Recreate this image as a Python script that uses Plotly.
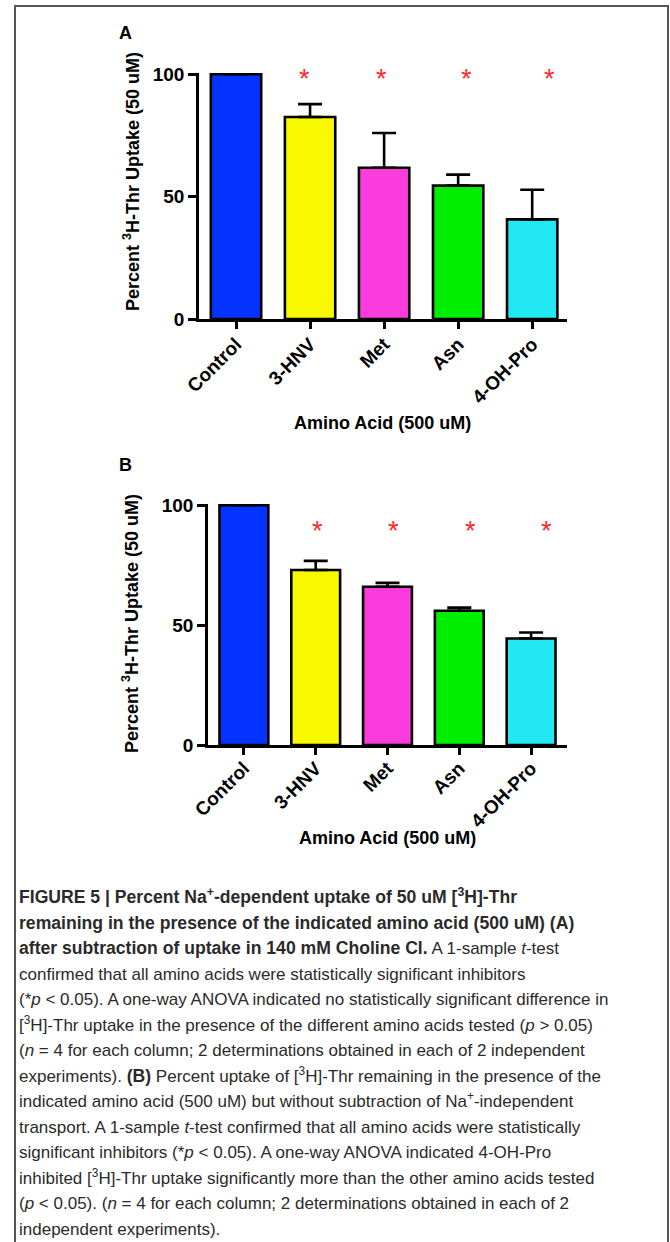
import plotly.graph_objects as go

W, H = 670, 1242

categories = ["Control", "3-HNV", "Met", "Asn", "4-OH-Pro"]
colors = ["#0433FF", "#F8F800", "#FA3CDC", "#00EE00", "#22E8F4"]

# Panel A
values_A = [100, 82.5, 61.8, 54.5, 40.7]
err_A = [0, 5.3, 14.2, 4.5, 12.1]
sig_x_A = [0.92, 1.96, 3.11, 4.23]
sig_y_A = [99, 99, 99, 99]

# Panel B
values_B = [100, 73.0, 66.0, 56.0, 44.4]
err_B = [0, 3.8, 1.6, 1.3, 2.5]
sig_x_B = [1.03, 2.09, 3.16, 4.22]
sig_y_B = [90, 90, 90, 90]

y_ticks = [0, 50, 100]

FONT = "Liberation Sans, Arial, sans-serif"


def px_x(p):
    return p / W


def px_y(p):
    return 1 - p / H


fig = go.Figure()

for vals, errs, xa, ya in [(values_A, err_A, "x", "y"), (values_B, err_B, "x2", "y2")]:
    fig.add_trace(go.Bar(
        x=categories, y=vals, xaxis=xa, yaxis=ya,
        marker=dict(color=colors, line=dict(color="black", width=2.6)),
        width=0.68,
        error_y=dict(type="data", array=errs, arrayminus=[0] * len(errs), symmetric=False,
                     color="black", thickness=2.6, width=12),
        showlegend=False, hoverinfo="skip",
    ))

axis_common = dict(
    showline=True, linecolor="black", linewidth=2.6,
    ticks="outside", tickcolor="black", tickwidth=2.6,
    showgrid=False, zeroline=False, automargin=False,
    tickfont=dict(family=FONT, size=19, color="black", weight="bold"),
)

fig.update_layout(
    width=W, height=H,
    margin=dict(l=0, r=0, t=0, b=0, autoexpand=False),
    plot_bgcolor="white", paper_bgcolor="white",
    showlegend=False,
    xaxis=dict(domain=[px_x(199), px_x(567)], range=[-0.5, 4.47], anchor="y",
               tickangle=-45, ticklen=7, ticklabelstandoff=-3, **axis_common),
    yaxis=dict(domain=[px_y(319), px_y(73)], range=[0, 100.5], anchor="x",
               tickvals=y_ticks, ticklen=8, **axis_common),
    xaxis2=dict(domain=[px_x(208), px_x(567)], range=[-0.5, 4.5], anchor="y2",
                tickangle=-45, ticklen=7, ticklabelstandoff=-5, **axis_common),
    yaxis2=dict(domain=[px_y(745), px_y(504)], range=[0, 100.5], anchor="x2",
                tickvals=y_ticks, ticklen=8, **axis_common),
)

ann = []
# asterisks
for xs, ys, xr, yr in [(sig_x_A, sig_y_A, "x", "y"), (sig_x_B, sig_y_B, "x2", "y2")]:
    for xv, yv in zip(xs, ys):
        ann.append(dict(x=xv, y=yv, xref=xr, yref=yr, text="*", showarrow=False,
                        font=dict(family=FONT, size=27, color="#FF2A2A"),
                        xanchor="center", yanchor="middle", yshift=-2))

bold = dict(family=FONT, size=18, color="black", weight="bold")
# panel letters
ann.append(dict(x=px_x(125), y=px_y(33), xref="paper", yref="paper", text="A",
                showarrow=False, font=bold, xanchor="center", yanchor="middle"))
ann.append(dict(x=px_x(125), y=px_y(465), xref="paper", yref="paper", text="B",
                showarrow=False, font=bold, xanchor="center", yanchor="middle"))
# axis titles
ytitle = "Percent <sup>3</sup>H-Thr Uptake (50 uM)"
ann.append(dict(x=px_x(132), y=px_y(182), xref="paper", yref="paper", text=ytitle,
                textangle=-90, showarrow=False, font=bold, xanchor="center", yanchor="middle"))
ann.append(dict(x=px_x(130), y=px_y(624), xref="paper", yref="paper", text=ytitle,
                textangle=-90, showarrow=False, font=bold, xanchor="center", yanchor="middle"))
ann.append(dict(x=px_x(382), y=px_y(423), xref="paper", yref="paper", text="Amino Acid (500 uM)",
                showarrow=False, font=bold, xanchor="center", yanchor="middle"))
ann.append(dict(x=px_x(387), y=px_y(838), xref="paper", yref="paper", text="Amino Acid (500 uM)",
                showarrow=False, font=bold, xanchor="center", yanchor="middle"))


def B(s):
    return '<b><span style="font-size:17.6px">' + s + "</span></b>"


caption_lines = [
    B("FIGURE 5 | Percent Na<sup>+</sup>-dependent uptake of 50 uM [<sup>3</sup>H]-Thr"),
    B("remaining in the presence of the indicated amino acid (500 uM) (A)"),
    B("after subtraction of uptake in 140 mM Choline Cl.") + " A 1-sample <i>t</i>-test",
    "confirmed that all amino acids were statistically significant inhibitors",
    "(*<i>p</i> &lt; 0.05). A one-way ANOVA indicated no statistically significant difference in",
    "[<sup>3</sup>H]-Thr uptake in the presence of the different amino acids tested (<i>p</i> &gt; 0.05)",
    "(<i>n</i> = 4 for each column; 2 determinations obtained in each of 2 independent",
    "experiments). " + B("(B)") + " Percent uptake of [<sup>3</sup>H]-Thr remaining in the presence of the",
    "indicated amino acid (500 uM) but without subtraction of Na<sup>+</sup>-independent",
    "transport. A 1-sample <i>t</i>-test confirmed that all amino acids were statistically",
    "significant inhibitors (*<i>p</i> &lt; 0.05). A one-way ANOVA indicated 4-OH-Pro",
    "inhibited [<sup>3</sup>H]-Thr uptake significantly more than the other amino acids tested",
    "(<i>p</i> &lt; 0.05). (<i>n</i> = 4 for each column; 2 determinations obtained in each of 2",
    "independent experiments).",
]
cap_font = dict(family=FONT, size=17, color="#2a2a2a")
for i, line in enumerate(caption_lines):
    yc = 900 + i * 25.5
    ann.append(dict(x=px_x(17), y=px_y(yc + 9), xref="paper", yref="paper", text=line,
                    showarrow=False, font=cap_font, xanchor="left", yanchor="bottom", align="left"))

fig.update_layout(annotations=ann)

# outer frame
fig.add_shape(type="rect", xref="paper", yref="paper",
              x0=px_x(15), x1=px_x(668), y0=px_y(1260), y1=px_y(6),
              line=dict(color="#555555", width=2), fillcolor="rgba(0,0,0,0)")

fig.write_html("out.html", config={"displayModeBar": False},
               post_script="document.body.style.margin='0';document.body.style.overflow='hidden';")
